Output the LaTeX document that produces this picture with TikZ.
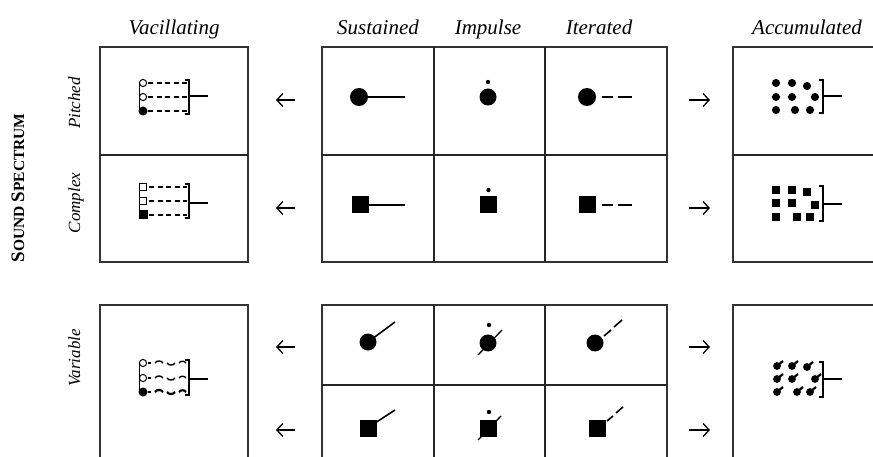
\documentclass[tikz,border=0pt]{standalone}
\usepackage{fontspec}
\setmainfont{Liberation Serif}
\usetikzlibrary{arrows.meta}
\begin{document}
\begin{tikzpicture}[x=1pt,y=-1pt,
  frame/.style={line width=1.8pt,draw=black!80},
  sep/.style={line width=1.1pt,draw=black!85},
  hdr/.style={font=\fontsize{21}{21}\selectfont\itshape,anchor=base,inner sep=0pt},
  rowlbl/.style={font=\fontsize{17}{17}\selectfont\itshape,rotate=90,anchor=base,inner sep=0pt},
  stick/.style={line width=1.6pt},
  thin/.style={line width=1pt},
  brk/.style={line width=1.3pt},
  arw/.style={line width=1.1pt,-{Straight Barb[length=6pt,width=13pt,line width=1.3pt]}},
]
\useasboundingbox (0,0) rectangle (873,457);

% ---------- headers ----------
\node[hdr] (hVac) at (174,35) {Vacillating};
\node[hdr] (hSus) at (378,35) {Sustained};
\node[hdr] (hImp) at (488,35) {Impulse};
\node[hdr] (hIte) at (599,35) {Iterated};
\node[hdr] (hAcc) at (807,35) {Accumulated};

% ---------- row labels ----------
\node[rowlbl] (rPit) at (80,103) {Pitched};
\node[rowlbl] (rCom) at (80,203) {Complex};
\node[rowlbl] (rVar) at (80,358) {Variable};
\node[rotate=90,anchor=base,inner sep=0pt,font=\bfseries] (spec) at (24,188)
  {{\fontsize{19}{19}\selectfont S}{\fontsize{15.5}{15.5}\selectfont OUND}\hspace{4pt}{\fontsize{19}{19}\selectfont S}{\fontsize{15.5}{15.5}\selectfont PECTRUM}};

% ---------- frames ----------
\draw[frame] (100,47) rectangle (248,262);
\draw[sep] (100,155) -- (248,155);
\draw[frame] (100,470) -- (100,305) -- (248,305) -- (248,470);

\draw[frame] (322,47) rectangle (667,262);
\draw[sep] (322,155) -- (667,155) (434,47) -- (434,262) (545,47) -- (545,262);
\draw[frame] (322,470) -- (322,305) -- (667,305) -- (667,470);
\draw[sep] (322,385) -- (667,385) (434,305) -- (434,470) (545,305) -- (545,470);

\draw[frame] (880,47) -- (733,47) -- (733,262) -- (880,262);
\draw[sep] (733,155) -- (880,155);
\draw[frame] (880,305) -- (733,305) -- (733,470);

% ---------- arrows ----------
\foreach \y [count=\i] in {100,208,347,430}{
  \coordinate (lt\i) at (295,\y); \coordinate (lh\i) at (276,\y);
  \coordinate (rt\i) at (689,\y); \coordinate (rh\i) at (710,\y);
  \draw[arw] (lt\i) -- (lh\i);
  \draw[arw] (rt\i) -- (rh\i);
}

% ---------- middle grid symbols: pitched ----------
\fill (359,97) circle (9);
\draw[stick] (359,97) -- (405,97);
\fill (488,97) circle (8.5);
\fill (488,82) circle (2.2);
\fill (587,97) circle (9);
\draw[stick] (602,97) -- (613,97) (618,97) -- (632,97);

% complex
\fill (351.5,196.5) rectangle (368.5,213.5);
\draw[stick] (368,205) -- (405,205);
\fill (480,196.5) rectangle (497,213.5);
\fill (488.5,190) circle (2.2);
\fill (578.5,196.5) rectangle (595.5,213.5);
\draw[stick] (602,205) -- (613,205) (618,205) -- (632,205);

% variable (pitched)
\fill (368,342) circle (8.5);
\draw[stick] (368,342) -- (395,322);
\fill (488,343) circle (8.5);
\draw[line width=1.3pt] (478,355) -- (502,330);
\fill (489,325) circle (2.2);
\fill (595,343) circle (8.5);
\draw[stick] (604,336) -- (611,330) (614,327) -- (622,320);

% variable (complex)
\fill (359.5,419.5) rectangle (376.5,436.5);
\draw[stick] (372,425) -- (395,410);
\fill (480,419.5) rectangle (497,436.5);
\draw[line width=1.3pt] (478,440) -- (501,416);
\fill (489,412) circle (2.2);
\fill (588.5,419.5) rectangle (605.5,436.5);
\draw[stick] (607,421) -- (613,416) (616,413) -- (623,407);

% ---------- vacillating symbols ----------
\begin{scope}[shift={(143,97)}]
  \draw[thin] (0,-14) circle (3.6) (0,0) circle (3.6);
  \fill (0,14) circle (4.5);
  \draw[thin] (-3.6,-14) -- (-3.6,14);
  \draw[line width=1.5pt,dash pattern=on 5pt off 3.5pt] (5,-14) -- (44,-14) (5,0) -- (44,0);
  \draw[line width=2.6pt,dash pattern=on 5pt off 3.5pt] (5,14) -- (44,14);
  \draw[brk] (42,-17) -- (46,-17) -- (46,17) -- (42,17);
  \draw[brk] (46,-1) -- (65,-1);
\end{scope}

\begin{scope}[shift={(143,201)}]
  \draw[thin] (-3.6,-17.6) rectangle (3.6,-10.4) (-3.6,-3.6) rectangle (3.6,3.6);
  \fill (-4.5,9.5) rectangle (4.5,18.5);
  \draw[thin] (-3.6,-14) -- (-3.6,14);
  \draw[line width=1.5pt,dash pattern=on 5pt off 3.5pt] (6,-14) -- (44,-14) (6,0) -- (44,0);
  \draw[line width=2.6pt,dash pattern=on 5pt off 3.5pt] (6,14) -- (44,14);
  \draw[brk] (42,-17) -- (46,-17) -- (46,17) -- (42,17);
  \draw[brk] (46,2) -- (65,2);
\end{scope}

\begin{scope}[shift={(143,378)}]
  \draw[thin] (0,-15) circle (3.6) (0,0) circle (3.6);
  \fill (0,14) circle (4.5);
  \draw[thin] (-3.6,-15) -- (-3.6,14);
  \foreach \r/\w in {-15/1.4,0/1.4,14/2.2}{
    \draw[line width=\w pt] (5,\r) -- (8,\r);
    \draw[line width=\w pt] (12,\r) to[bend left=60] (20,\r);
    \draw[line width=\w pt] (24,\r) to[bend right=60] (32,\r);
    \draw[line width=\w pt] (36,\r) to[bend left=60] (43,\r);
  }
  \draw[brk] (42,-18) -- (46,-18) -- (46,17) -- (42,17);
  \draw[brk] (46,1) -- (65,1);
\end{scope}

% ---------- accumulated symbols ----------
\foreach \p in {(776,83),(792,83),(807,86),(776,97),(792,97),(815,97),(776,110),(795,110),(810,110)}
  \fill \p circle (4.1);
\draw[brk] (819,80) -- (823,80) -- (823,113) -- (819,113);
\draw[brk] (823,96) -- (842,96);

\foreach \a/\b in {776/190,792/190,807/192,776/203,792/203,815/205,776/217,797/217,810/217}
  \fill (\a-4.2,\b-4.2) rectangle (\a+4.2,\b+4.2);
\draw[brk] (819,186) -- (823,186) -- (823,221) -- (819,221);
\draw[brk] (823,204) -- (842,204);

\foreach \a/\b in {777/366,792/366,807/367,777/379,792/379,815/379,777/392,797/392,810/392}{
  \fill (\a,\b) circle (3.9);
  \draw[line width=2.2pt] (\a,\b) -- (\a+6,\b-5);
}
\draw[brk] (819,362) -- (823,362) -- (823,397) -- (819,397);
\draw[brk] (823,379) -- (842,379);
\end{tikzpicture}
\end{document}
